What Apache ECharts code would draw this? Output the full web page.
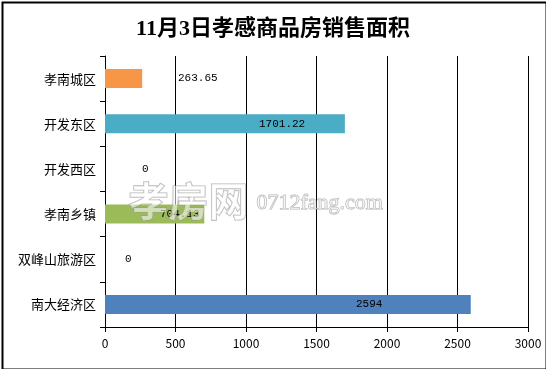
<!DOCTYPE html>
<html>
<head>
<meta charset="utf-8">
<script src="https://cdn.jsdelivr.net/npm/echarts@6/dist/echarts.min.js"></script>
<style>
html,body{margin:0;padding:0;background:#fff;}
#c{width:546px;height:369px;}
</style>
</head>
<body>
<div id="c"></div>
<script>
// Data
const categories = ['孝南城区', '开发东区', '开发西区', '孝南乡镇', '双峰山旅游区', '南大经济区'];
const values = [263.65, 1701.22, 0, 704.13, 0, 2594];
const xTicks = [0, 500, 1000, 1500, 2000, 2500, 3000];
const titleText = '11月3日孝感商品房销售面积';

// Styling (not data)
const barColors = ['#F79646', '#4BACC6', '#9BBB59', '#9BBB59', '#4F81BD', '#4F81BD'];
const labelOffsets = [73, 154, 37, 55, 20, 251];

const chart = echarts.init(document.getElementById('c'), null, {renderer: 'canvas'});
const font = '"Noto Sans CJK SC", sans-serif';

chart.setOption({
  animation: false,
  backgroundColor: '#fff',
  title: {
    text: titleText,
    left: 'center',
    top: 13,
    textStyle: {fontFamily: '"Liberation Serif", "Noto Sans CJK SC", serif', fontSize: 22, fontWeight: 'bold', color: '#000'}
  },
  grid: {left: 105, right: 18, top: 56, bottom: 42, containLabel: false},
  xAxis: {
    type: 'value',
    min: xTicks[0],
    max: xTicks[xTicks.length - 1],
    interval: xTicks[1] - xTicks[0],
    axisLine: {show: true, lineStyle: {color: '#000', width: 1}},
    axisTick: {show: true, inside: false, length: 5, lineStyle: {color: '#000'}},
    axisLabel: {color: '#000', fontFamily: font, fontSize: 12, margin: 10, formatter: v => String(v)},
    splitLine: {show: true, lineStyle: {color: '#000', width: 1}}
  },
  yAxis: {
    type: 'category',
    data: categories,
    inverse: true,
    axisLine: {show: true, lineStyle: {color: '#000', width: 1}},
    axisTick: {show: true, length: 5, lineStyle: {color: '#000'}},
    axisLabel: {color: '#000', fontFamily: font, fontSize: 13, margin: 9}
  },
  series: [{
    type: 'bar',
    barWidth: 19,
    data: values.map((v, i) => ({
      value: v,
      itemStyle: {color: barColors[i]},
      label: {
        show: true,
        position: [labelOffsets[i], '50%'],
        verticalAlign: 'middle',
        color: '#000',
        fontFamily: '"Liberation Mono", monospace',
        fontSize: 11,
        formatter: String(v)
      }
    }))
  }],
  graphic: [
    {type: 'text', left: 128, top: 180, silent: true, z: 100,
     style: {text: '孝房网', fontSize: 40, fontFamily: font, fontWeight: 'bold', fill: 'rgba(255,255,255,0.55)', stroke: 'rgba(150,150,150,0.7)', lineWidth: 1.2}},
    {type: 'text', left: 256, top: 192, silent: true, z: 100,
     style: {text: '0712fang.com', fontSize: 22, fontFamily: '"Liberation Serif", serif', fill: 'rgba(255,255,255,0.5)', stroke: 'rgba(150,150,150,0.7)', lineWidth: 1}},
    {type: 'rect', left: 0, top: 0, silent: true, z: 200,
     shape: {x: 1, y: 1, width: 544, height: 367},
     style: {fill: 'none', stroke: '#000', lineWidth: 2}}
  ]
});
</script>
</body>
</html>
